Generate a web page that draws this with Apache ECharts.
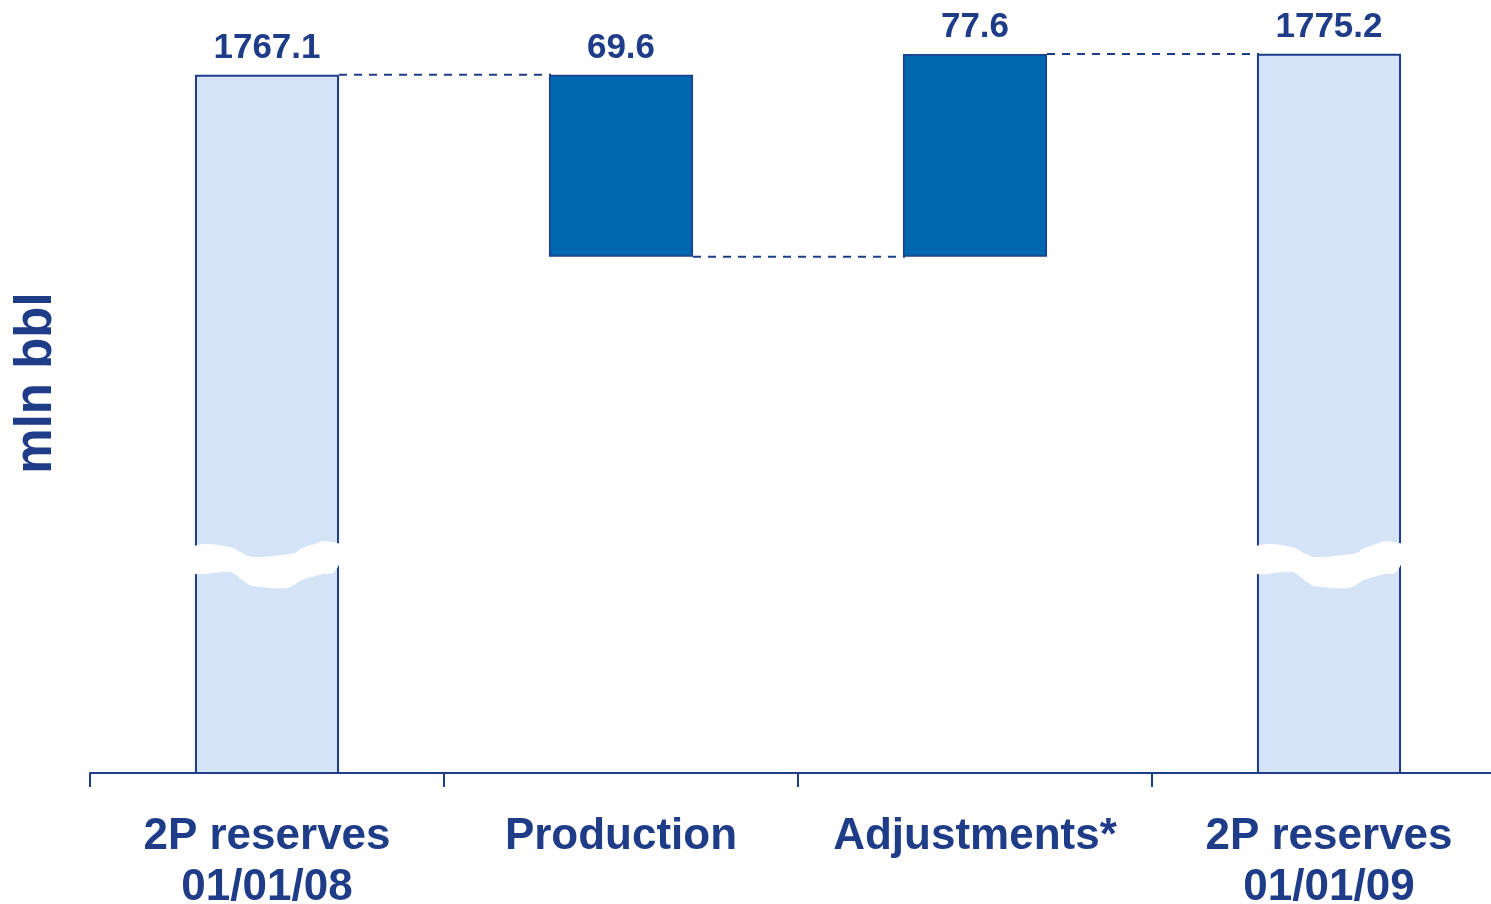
<!DOCTYPE html>
<html>
<head>
<meta charset="utf-8">
<script src="https://cdn.jsdelivr.net/npm/echarts@6/dist/echarts.min.js"></script>
<style>
  html, body { margin: 0; padding: 0; background: #ffffff; }
  #chart { width: 1491px; height: 904px; }
</style>
</head>
<body>
<div id="chart"></div>
<script>
// Reserve bridge, mln bbl
const categories = ['2P reserves\n01/01/08', 'Production', 'Adjustments*', '2P reserves\n01/01/09'];
const openingTotal = 1767.1;
const changes = [-69.6, 77.6];       // Production, Adjustments*
const closingTotal = 1775.2;
const axisMin = 1500;                // value axis starts above zero (broken axis)
const axisMax = 1790;
const breakValue = 1579.6;           // where the break marks sit on the total bars

const NAVY = '#1F3C88';
const DARK = '#0066AD';
const LIGHT = '#D5E3F7';
const FONT = 'Liberation Sans, Arial, sans-serif';

// Build waterfall pieces from the data
const baseData = [0];
const deltaData = ['-'];
const totalData = [openingTotal];
const levels = [openingTotal];
let running = openingTotal;
changes.forEach(c => {
  const next = running + c;
  baseData.push(Math.min(running, next));
  deltaData.push({ value: Math.abs(c), raw: c });
  totalData.push('-');
  running = next;
  levels.push(running);
});
baseData.push(0);
deltaData.push('-');
totalData.push(closingTotal);

// connector segments: from bar i (right edge) to bar i+1 (left edge)
const connectorData = levels.map((lv, i) => [i, lv]);
const breakData = [[0, breakValue], [categories.length - 1, breakValue]];

// break-mark outline, in px relative to its centre for a 144px-wide bar
const breakShape = [
  [-75, -17], [-59, -21], [-34, -17], [-27, -13], [-14, -8], [23, -11], [30, -13],
  [33, -16], [50, -22], [56, -24], [70, -22], [76, -20], [74, -5], [66, 8],
  [56, 9], [35, 15], [20, 23], [-15, 21], [-22, 17], [-37, 7], [-75, 8]
];

const chart = echarts.init(document.getElementById('chart'), null, { renderer: 'canvas' });

const barWidthPct = '40.7%';

const valueLabel = {
  show: true,
  position: 'top',
  distance: 9,
  color: NAVY,
  fontFamily: FONT,
  fontWeight: 'bold',
  fontSize: 35,
  formatter: p => p.value.toFixed(1)
};

chart.setOption({
  animation: false,
  backgroundColor: '#ffffff',
  grid: { left: 90, width: 1416, top: 15, bottom: 131, containLabel: false, outerBoundsMode: 'none' },
  xAxis: {
    type: 'category',
    data: categories,
    boundaryGap: true,
    axisLine: { show: true, lineStyle: { color: NAVY, width: 2 } },
    axisTick: { show: true, interval: 0, length: 14, lineStyle: { color: NAVY, width: 2 } },
    axisLabel: {
      interval: 0,
      hideOverlap: false,
      margin: 38,
      color: NAVY,
      fontFamily: FONT,
      fontWeight: 'bold',
      fontSize: 44,
      lineHeight: 51
    }
  },
  yAxis: {
    type: 'value',
    min: axisMin,
    max: axisMax,
    name: 'mln bbl',
    nameLocation: 'middle',
    nameRotate: 90,
    nameGap: 28,
    nameTextStyle: {
      color: NAVY,
      fontFamily: FONT,
      fontWeight: 'bold',
      fontSize: 51,
      padding: [0, 0, 0, 22]
    },
    axisLine: { show: false },
    axisTick: { show: false },
    axisLabel: { show: false },
    splitLine: { show: false }
  },
  series: [
    {
      name: 'base',
      type: 'bar',
      stack: 'w',
      barWidth: barWidthPct,
      itemStyle: { color: 'rgba(0,0,0,0)' },
      silent: true,
      data: baseData,
      z: 1
    },
    {
      name: 'change',
      type: 'bar',
      stack: 'w',
      barWidth: barWidthPct,
      itemStyle: { color: DARK, borderColor: NAVY, borderWidth: 1.5 },
      label: valueLabel,
      data: deltaData,
      z: 3
    },
    {
      name: 'total',
      type: 'bar',
      stack: 'w',
      barWidth: barWidthPct,
      itemStyle: { color: LIGHT, borderColor: NAVY, borderWidth: 2 },
      label: valueLabel,
      data: totalData,
      z: 3
    },
    {
      name: 'connectors',
      type: 'custom',
      silent: true,
      z: 4,
      renderItem: (params, api) => {
        const i = api.value(0);
        const lv = api.value(1);
        const w = api.size([1, 0])[0] * 0.407;
        const p0 = api.coord([i, lv]);
        const p1 = api.coord([i + 1, lv]);
        return {
          type: 'line',
          shape: { x1: p0[0] + w / 2, y1: p0[1], x2: p1[0] - w / 2 + 2, y2: p1[1] },
          style: { stroke: NAVY, lineWidth: 2, lineDash: [8, 7] }
        };
      },
      data: connectorData
    },
    {
      name: 'breaks',
      type: 'custom',
      silent: true,
      z: 5,
      clip: false,
      renderItem: (params, api) => {
        const c = api.coord([api.value(0), api.value(1)]);
        const k = api.size([1, 0])[0] * 0.407 / 144;
        const pts = breakShape.map(p => [c[0] + p[0] * k, c[1] + p[1]]);
        return {
          type: 'polygon',
          shape: { points: pts, smooth: 0.3 },
          style: { fill: '#ffffff', stroke: null }
        };
      },
      data: breakData
    }
  ]
});
</script>
</body>
</html>
